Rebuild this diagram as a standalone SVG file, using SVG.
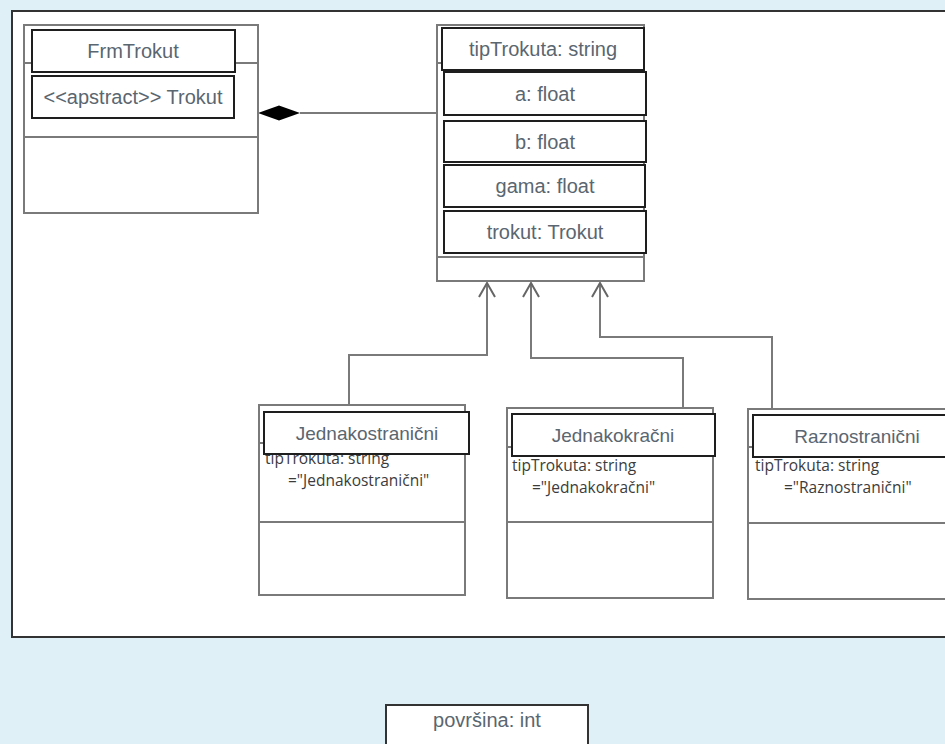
<svg xmlns="http://www.w3.org/2000/svg" width="945" height="744" viewBox="0 0 945 744">
<defs>
<style>
.outer{fill:#fff;stroke:#7a7a7a;stroke-width:2}
.div{stroke:#7a7a7a;stroke-width:2;fill:none}
.box{fill:#fff;stroke:#1e1e1e;stroke-width:2}
.lbl{font-family:"Liberation Sans",Arial,sans-serif;font-size:20px;fill:#5a6670;text-anchor:middle}
.lbl19{font-family:"Liberation Sans",Arial,sans-serif;font-size:19px;fill:#5a6670;text-anchor:middle}
.sm{font-family:"Open Sans","Noto Sans",sans-serif;font-size:15.5px;fill:#3c3c3c}
.conn{stroke:#7a7a7a;stroke-width:2;fill:none}
</style>
<marker id="open" viewBox="0 0 20 20" refX="18" refY="10" markerWidth="20" markerHeight="20" markerUnits="userSpaceOnUse" orient="auto">
<path d="M4,2 L18,10 L4,18" fill="none" stroke="#666" stroke-width="2"/>
</marker>
</defs>
<rect x="0" y="0" width="945" height="744" fill="#dff0f6"/>
<rect id="panel" x="12" y="11" width="950" height="626" fill="#fff" stroke="#333" stroke-width="2"/>

<g id="connectors">
<line x1="300" y1="113" x2="437" y2="113" class="conn"/>
<polygon points="258,113 279,105.5 300,113 279,120.5" fill="#000"/>
<path d="M349,405 V355 H487 V283" class="conn" marker-end="url(#open)"/>
<path d="M683,408 V358 H531 V283" class="conn" marker-end="url(#open)"/>
<path d="M772,409 V337 H600 V283" class="conn" marker-end="url(#open)"/>
</g>

<g id="frmtrokut">
<rect x="24" y="25" width="234" height="188" class="outer"/>
<line x1="24" y1="63" x2="258" y2="63" class="div"/>
<line x1="24" y1="137" x2="258" y2="137" class="div"/>
<rect x="32" y="30" width="203" height="42" class="box"/>
<text x="133" y="58" class="lbl">FrmTrokut</text>
<rect x="32" y="76" width="202" height="42" class="box"/>
<text x="133" y="104" class="lbl">&lt;&lt;apstract&gt;&gt; Trokut</text>
</g>

<g id="trokut">
<rect x="437" y="25" width="207" height="256" class="outer"/>
<line x1="437" y1="63" x2="444" y2="63" class="div"/>
<line x1="437" y1="257" x2="644" y2="257" class="div"/>
<rect x="442" y="28" width="202" height="42" class="box"/>
<text x="543" y="56" class="lbl">tipTrokuta: string</text>
<rect x="444" y="72" width="202" height="43" class="box"/>
<text x="545" y="101" class="lbl">a: float</text>
<rect x="444" y="121" width="202" height="41" class="box"/>
<text x="545" y="149" class="lbl">b: float</text>
<rect x="444" y="165" width="201" height="42" class="box"/>
<text x="545" y="193" class="lbl">gama: float</text>
<rect x="444" y="211" width="202" height="42" class="box"/>
<text x="545" y="239" class="lbl">trokut: Trokut</text>
</g>

<g id="jednakostranicni">
<rect x="259" y="405" width="206" height="190" class="outer"/>
<line x1="259" y1="443" x2="266" y2="443" class="div"/>
<line x1="259" y1="522" x2="465" y2="522" class="div"/>
<text x="265" y="464" class="sm">tipTrokuta: string</text>
<text x="288" y="486" class="sm">="Jednakostranični"</text>
<rect x="264" y="412" width="205" height="42" class="box"/>
<text x="367" y="440" class="lbl19">Jednakostranični</text>
</g>

<g id="jednakokracni">
<rect x="507" y="408" width="206" height="190" class="outer"/>
<line x1="507" y1="447" x2="514" y2="447" class="div"/>
<line x1="507" y1="522" x2="713" y2="522" class="div"/>
<rect x="512" y="414" width="203" height="42" class="box"/>
<text x="613" y="442" class="lbl19">Jednakokračni</text>
<text x="512" y="471" class="sm">tipTrokuta: string</text>
<text x="532" y="493" class="sm">="Jednakokračni"</text>
</g>

<g id="raznostranicni">
<rect x="748" y="409" width="210" height="190" class="outer"/>
<line x1="748" y1="447" x2="755" y2="447" class="div"/>
<line x1="748" y1="523" x2="958" y2="523" class="div"/>
<rect x="753" y="415" width="208" height="42" class="box"/>
<text x="857" y="443" class="lbl19">Raznostranični</text>
<text x="755" y="471" class="sm">tipTrokuta: string</text>
<text x="784" y="493" class="sm">="Raznostranični"</text>
</g>

<g id="povrsina">
<rect x="386" y="705" width="202" height="50" fill="#fff" stroke="#333" stroke-width="2"/>
<text x="487" y="727" class="lbl">površina: int</text>
</g>
</svg>
